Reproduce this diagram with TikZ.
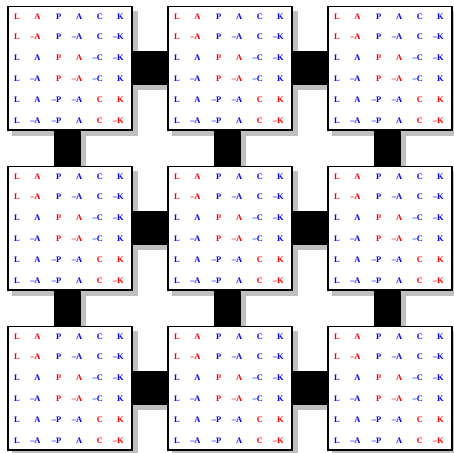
\documentclass[tikz,border=0pt]{standalone}
\usepackage{fontspec}
\setmainfont{Liberation Serif}
\usepackage{tikz}
\usetikzlibrary{positioning}
\usetikzlibrary{backgrounds}
\usepackage{xcolor}
\definecolor{lapackred}{RGB}{255,0,0}
\definecolor{lapackblue}{RGB}{0,0,255}
\definecolor{shadowgray}{RGB}{192,192,192}
\newcommand{\redcell}[1]{\makebox[20.8bp][r]{\color{lapackred}#1}}
\newcommand{\bluecell}[1]{\makebox[20.8bp][r]{\color{lapackblue}#1}}
\newcommand{\lneg}{\textendash}
\newcommand{\lapackrow}[6]{\hbox to 124bp{\kern-8.8bp#1#2#3#4#5#6\hfil}}
\newcommand{\lapackgrid}{\vbox{\baselineskip=20.8bp\lineskiplimit=-20bp%
  \lapackrow{\redcell{L}}{\redcell{A}}{\bluecell{P}}{\bluecell{A}}{\bluecell{C}}{\bluecell{K}}%
  \lapackrow{\redcell{L}}{\redcell{\lneg A}}{\bluecell{P}}{\bluecell{\lneg A}}{\bluecell{C}}{\bluecell{\lneg K}}%
  \lapackrow{\bluecell{L}}{\bluecell{A}}{\redcell{P}}{\redcell{A}}{\bluecell{\lneg C}}{\bluecell{\lneg K}}%
  \lapackrow{\bluecell{L}}{\bluecell{\lneg A}}{\redcell{P}}{\redcell{\lneg A}}{\bluecell{\lneg C}}{\bluecell{K}}%
  \lapackrow{\bluecell{L}}{\bluecell{A}}{\bluecell{\lneg P}}{\bluecell{\lneg A}}{\redcell{C}}{\redcell{K}}%
  \lapackrow{\bluecell{L}}{\bluecell{\lneg A}}{\bluecell{\lneg P}}{\bluecell{A}}{\redcell{C}}{\redcell{\lneg K}}}}
\tikzset{%
  tile/.style={draw,line width=1.6bp,fill=white,minimum width=123.5bp,minimum height=123.5bp,
    inner sep=0pt,font=\fontsize{8.5}{9}\selectfont\bfseries},
  tileshade/.style={fill=shadowgray},
  hlink/.style={line width=34bp},
  vlink/.style={line width=27bp}
}

\begin{document}
\begin{tikzpicture}[on grid]
  \useasboundingbox (0,0) rectangle (454bp,-453bp);
  \node[tile] (b11) at (69.8bp,-68.3bp) {\lapackgrid};
  \node[tile, right=160bp of b11] (b12) {\lapackgrid};
  \node[tile, right=160bp of b12] (b13) {\lapackgrid};
  \node[tile, below=160bp of b11] (b21) {\lapackgrid};
  \node[tile, right=160bp of b21] (b22) {\lapackgrid};
  \node[tile, right=160bp of b22] (b23) {\lapackgrid};
  \node[tile, below=160bp of b21] (b31) {\lapackgrid};
  \node[tile, right=160bp of b31] (b32) {\lapackgrid};
  \node[tile, right=160bp of b32] (b33) {\lapackgrid};

  \begin{pgfonlayer}{background}
    % shadows under the tiles
    \foreach \t in {b11,b12,b13,b21,b22,b23,b31,b32,b33}
      \fill[tileshade] ([shift={(5bp,-5bp)}]\t.south west) rectangle ([shift={(5bp,-5bp)}]\t.north east);

    % links along the rows, each with its shadow
    \foreach \a/\b in {b11/b12,b12/b13,b21/b22,b22/b23,b31/b32,b32/b33} {
      \draw[hlink,shadowgray] ([shift={(5bp,-5bp)}]\a.center) -- ([shift={(5bp,-5bp)}]\b.center);
      \draw[hlink] (\a.center) -- (\b.center);
    }

    % links down the columns
    \foreach \a/\b in {b11/b21,b21/b31,b12/b22,b22/b32,b13/b23,b23/b33} {
      \draw[vlink,shadowgray] ([shift={(2.5bp,-5bp)}]\a.center) -- ([shift={(2.5bp,-5bp)}]\b.center);
      \draw[vlink] ([xshift=-2.5bp]\a.center) -- ([xshift=-2.5bp]\b.center);
    }
  \end{pgfonlayer}
\end{tikzpicture}
\end{document}
